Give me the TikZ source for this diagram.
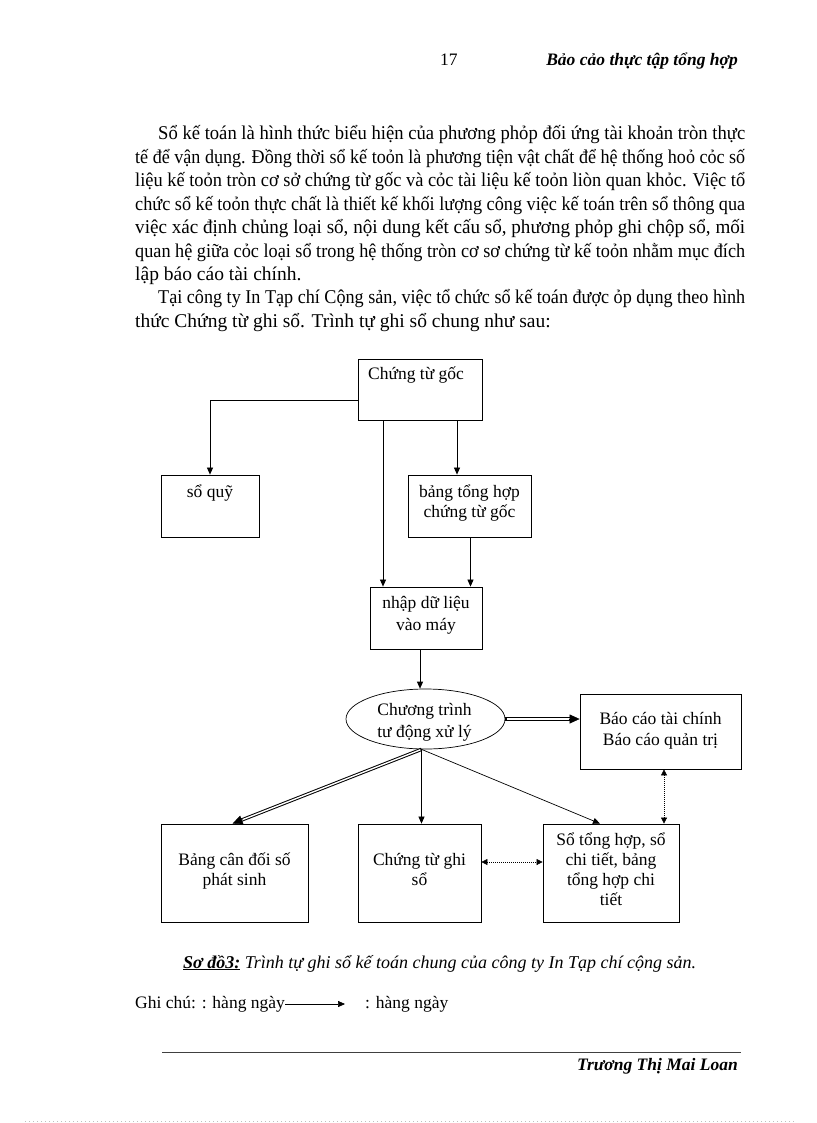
\documentclass[tikz,border=0pt]{standalone}
\usepackage{fontspec}
\setmainfont{Liberation Serif}
\usepackage{graphicx}
\usetikzlibrary{arrows.meta,shapes.geometric,calc}
\newsavebox\jbox
\newcommand\jline[2]{%
  \sbox\jbox{#2}%
  \ifdim\wd\jbox>#1\relax
    \pgfmathsetmacro\jr{#1/\the\wd\jbox}%
    \scalebox{\jr}[1]{\usebox\jbox}%
  \else
    \makebox[#1][s]{#2}%
  \fi}
\newcommand\tl[2]{\fontsize{17.5}{#1}\selectfont\begin{tabular}[t]{@{}c@{}}#2\end{tabular}}
\begin{document}
\begin{tikzpicture}[x=1pt,y=-1pt,
  box/.style={draw,line width=0.8pt,inner sep=0pt},
  btxt/.style={anchor=base,inner sep=0pt,font=\fontsize{17.5}{20}\selectfont},
  arr/.style={line width=0.7pt,-{Triangle[length=7pt,width=6pt]}},
  douter/.style={line width=3.4pt,shorten >=9pt},
  dinner/.style={white,line width=1.4pt,shorten >=8pt,shorten <=1.2pt},
  dtip/.style={line width=0.5pt,-{Triangle[length=10pt,width=9pt]}},
  dotarr/.style={line width=0.6pt,dash pattern=on 0.8pt off 1.2pt,{Triangle[length=6pt,width=6pt]}-{Triangle[length=6pt,width=6pt]}},
  body/.style={anchor=base west,inner sep=0pt,font=\fontsize{19.5}{23}\selectfont}]
\useasboundingbox[fill=white] (0,0) rectangle (816,1123);
% header
\node[anchor=base west,inner sep=0pt,font=\fontsize{17.5}{20}\selectfont] (pg) at (440,66) {17};
\node[anchor=base east,inner sep=0pt,font=\fontsize{17.5}{20}\selectfont\bfseries\itshape] (hd) at (738,66) {Bảo cảo thực tập tổng hợp};
% body
\node[body] (l1) at (158,140) {\jline{587pt}{Sổ kế toán là hình thức biểu hiện của phương phỏp đối ứng tài khoản tròn thực}};
\node[body] (l2) at (135,163.4) {\jline{610pt}{tế để vận dụng. Đồng thời sổ kế toỏn là phương tiện vật chất để hệ thống hoỏ cỏc số}};
\node[body] (l3) at (135,186.8) {\jline{610pt}{liệu kế toỏn tròn cơ sở chứng từ gốc và cỏc tài liệu kế toỏn liòn quan khỏc. Việc tổ}};
\node[body] (l4) at (135,210.2) {\jline{610pt}{chức sổ kế toỏn thực chất là thiết kế khối lượng công việc kế toán trên sổ thông qua}};
\node[body] (l5) at (135,233.6) {\jline{610pt}{việc xác định chủng loại sổ, nội dung kết cấu sổ, phương phỏp ghi chộp sổ, mối}};
\node[body] (l6) at (135,257) {\jline{610pt}{quan hệ giữa cỏc loại sổ trong hệ thống tròn cơ sơ chứng từ kế toỏn nhằm mục đích}};
\node[body] (l7) at (135,280.4) {lập báo cáo tài chính.};
\node[body] (l8) at (158,303.8) {\jline{587pt}{Tại công ty In Tạp chí Cộng sản, việc tổ chức sổ kế toán được ỏp dụng theo hình}};
\node[body] (l9) at (135,327.2) {thức Chứng từ ghi sổ. Trình tự ghi sổ chung như sau:};
% boxes
\node[box,minimum width=124pt,minimum height=61pt] (goc) at (420,389.5) {};
\node[btxt] (goct) at (416,379) {Chứng từ gốc};
\node[box,minimum width=98pt,minimum height=62pt] (quy) at (210,506) {};
\node[btxt] (quyt) at (210,497) {sổ quỹ};
\node[box,minimum width=123pt,minimum height=62pt] (bth) at (469.5,506) {};
\node[btxt] (btht) at (469.5,497) {\tl{20}{bảng tổng hợp\\chứng từ gốc}};
\node[box,minimum width=112pt,minimum height=62pt] (nhap) at (426,618) {};
\node[btxt] (nhapt) at (426,608) {\tl{22}{nhập dữ liệu\\vào máy}};
\node[ellipse,draw,line width=0.7pt,inner sep=0pt,minimum width=159pt,minimum height=60pt] (ell) at (425.5,719) {};
\node[btxt] (ellt) at (424.5,715) {\tl{22}{Chương trình\\tư động xử lý}};
\node[box,minimum width=161pt,minimum height=75pt] (bc) at (660.5,731.5) {};
\node[btxt] (bct) at (660.5,724) {\tl{21}{Báo cáo tài chính\\Báo cáo quản trị}};
\node[box,minimum width=147pt,minimum height=98pt] (bcd) at (234.5,873) {};
\node[btxt] (bcdt) at (234.5,865) {\tl{20}{Bảng cân đối số\\phát sinh}};
\node[box,minimum width=123pt,minimum height=98pt] (ctgs) at (419.5,873) {};
\node[btxt] (ctgst) at (419.5,865) {\tl{20}{Chứng từ ghi\\sổ}};
\node[box,minimum width=136pt,minimum height=98pt] (sth) at (611,873) {};
\node[btxt] (stht) at (611,845) {\tl{20}{Sổ tổng hợp, sổ\\chi tiết, bảng\\tổng hợp chi\\tiết}};
% connectors
\draw[arr] ([yshift=-11pt]goc.west) -| (quy.north);
\draw[arr] ([xshift=-37pt]goc.south) -- ([xshift=-37pt]goc.south |- nhap.north);
\draw[arr] ([xshift=37pt]goc.south) -- ([xshift=37pt]goc.south |- bth.north);
\draw[arr] ([xshift=1pt]bth.south) -- ([xshift=1pt]bth.south |- nhap.north);
\draw[arr] ([xshift=-6pt]nhap.south) -- ([xshift=-6pt]nhap.south |- ell.north);
% double arrow to reports
\coordinate (de1) at (ell.east -| bc.west);
\draw[douter] (ell.east) -- (de1);
\draw[dinner] (ell.east) -- (de1);
\draw[dtip] ($(de1)!11pt!(ell.east)$) -- (de1);
% double arrow to balance sheet
\coordinate (eb) at ([xshift=-4pt]ell.south);
\coordinate (de2) at ([xshift=-2pt]bcd.north);
\draw[douter] (eb) -- (de2);
\draw[dinner] (eb) -- (de2);
\draw[dtip] ($(de2)!11pt!(eb)$) -- (de2);
\draw[arr] (eb) -- (eb |- ctgs.north);
\draw[arr] (eb) -- ([xshift=-11pt]sth.north);
\draw[dotarr] ([xshift=53pt]sth.north) -- ([xshift=53pt]sth.north |- bc.south);
\draw[dotarr] ([yshift=11pt]ctgs.east) -- ([yshift=11pt]ctgs.east -| sth.west);
% caption
\node[anchor=base west,inner sep=0pt,font=\fontsize{18}{21}\selectfont\itshape] (cap) at (183,968) {{\bfseries\underline{Sơ đồ3:}} Trình tự ghi sổ kế toán chung của công ty In Tạp chí cộng sản.};
% legend
\node[anchor=base west,inner sep=0pt,font=\fontsize{17.5}{20}\selectfont] (lg1) at (135,1008) {Ghi chú: : hàng ngày};
\coordinate (lgend) at (345,1004);
\draw[line width=0.7pt,-{Triangle[length=7pt,width=6pt]}] (lg1.base east |- lgend) -- (lgend);
\node[anchor=base west,inner sep=0pt,font=\fontsize{17.5}{20}\selectfont] (lg2) at (365,1008) {: hàng ngày};
% footer
\coordinate (fl) at (162,1052);
\coordinate (fr) at (741,1052);
\draw[line width=0.8pt,black!75] (fl) -- (fr);
\node[anchor=base east,inner sep=0pt,font=\fontsize{17.5}{20}\selectfont\bfseries\itshape] (ft) at (738,1070) {Trương Thị Mai Loan};
\coordinate (dl) at (25,1121.5);
\coordinate (dr) at (795,1121.5);
\draw[black!25,line width=0.6pt,dash pattern=on 1pt off 3pt] (dl) -- (dr);
\end{tikzpicture}
\end{document}
